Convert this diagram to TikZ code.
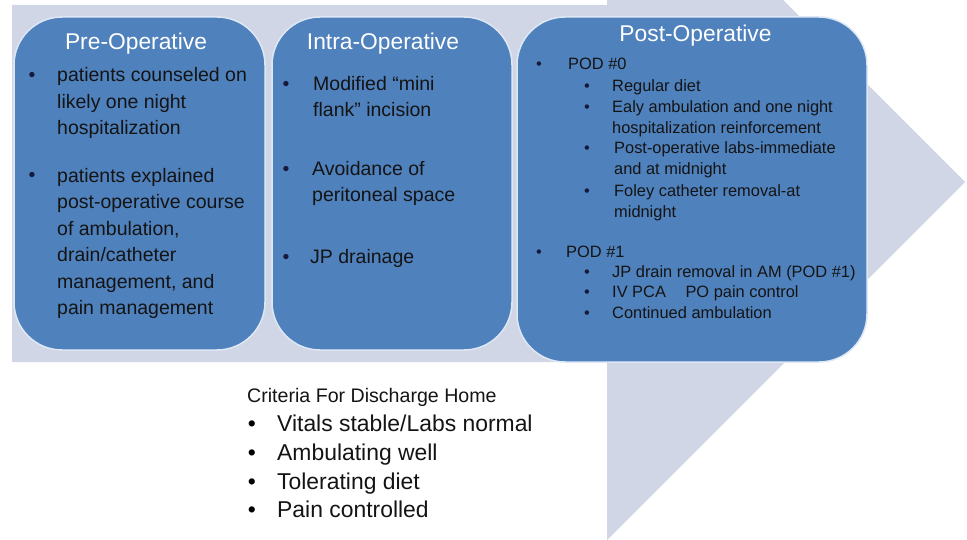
\documentclass[tikz,border=0pt]{standalone}
\usepackage{fontspec}
\setmainfont{Liberation Sans}
\usepackage{tikz}

\definecolor{arrowbg}{RGB}{208,214,230}
\definecolor{phaseblue}{RGB}{79,129,189}
\definecolor{phaseedge}{RGB}{222,232,245}
\definecolor{dotcol}{RGB}{22,26,58}

% multi-line items are placed by the baseline of their last line
\tikzset{
	phase/.style={draw=phaseedge, line width=1.5pt, fill=phaseblue, rounded corners=48pt},
	phasetitle/.style={anchor=base, inner sep=0pt, text=white, font=\fontsize{22.8}{26}\selectfont},
	itemtext/.style={anchor=base west, inner sep=0pt, align=left, text=black!92},
	bulletdot/.style={anchor=base, inner sep=0pt, text=dotcol},
	bigfont/.style={font=\fontsize{19.5}{26.6}\selectfont},
	smallfont/.style={font=\fontsize{16.4}{21}\selectfont},
	homefont/.style={font=\fontsize{22.9}{29}\selectfont},
}

\begin{document}
\begin{tikzpicture}[x=1pt,y=-1pt]
			\useasboundingbox (0,0) rectangle (967,540);
			
			% big arrow behind the three phases
			\fill[arrowbg] (12,5)--(607,5)--(607,0)--(783,0)--(965,182)--(607,540)--(607,362)--(12,362)--cycle;
			
			% the three phase boxes
			\node[phase, minimum width=251pt, minimum height=333pt] (pre) at (139.5,183.5) {};
			\node[phase, minimum width=240pt, minimum height=333pt] (intra) at (392,183.5) {};
			\node[phase, minimum width=350pt, minimum height=345pt] (post) at (692,189.5) {};
			
			\node [phasetitle] (pretitle) at (136,50) {Pre-Operative};
			\node [phasetitle] (intratitle) at (383,50) {Intra-Operative};
			\node [phasetitle] (posttitle) at (695.5,42) {Post-Operative};
			
			% pre-operative
			\node [bulletdot, bigfont] (preb1) at (32,82) {•};
			\node [itemtext, bigfont] (pre1) at (57,135) {patients counseled on\\likely one night\\hospitalization};
			\node [bulletdot, bigfont] (preb2) at (32,182) {•};
			\node [itemtext, bigfont] (pre2) at (57,315) {patients explained\\post-operative course\\of ambulation,\\drain/catheter\\management, and\\pain management};
			
			% intra-operative
			\node [bulletdot, bigfont] (intrab1) at (286,91) {•};
			\node [itemtext, bigfont] (intra1) at (313,117) {Modified “mini\\flank” incision};
			\node [bulletdot, bigfont] (intrab2) at (286,176) {•};
			\node [itemtext, bigfont] (intra2) at (312,202) {Avoidance of\\peritoneal space};
			\node [bulletdot, bigfont] (intrab3) at (286,264) {•};
			\node [itemtext, bigfont] (intra3) at (310,264) {JP drainage};
			
			% post-operative
			\node [bulletdot, smallfont] (podb0) at (539,70) {•};
			\node [itemtext, smallfont] (pod0) at (568,70) {POD \#0};
			\node [bulletdot, smallfont] (postb1) at (587,92) {•};
			\node [itemtext, smallfont] (post1) at (612,92) {Regular diet};
			\node [bulletdot, smallfont] (postb2) at (587,113) {•};
			\node [itemtext, smallfont] (post2) at (612,134) {Ealy ambulation and one night\\hospitalization reinforcement};
			\node [bulletdot, smallfont] (postb3) at (587,154) {•};
			\node [itemtext, smallfont] (post3) at (614,175) {Post-operative labs-immediate\\and at midnight};
			\node [bulletdot, smallfont] (postb4) at (587,197) {•};
			\node [itemtext, smallfont] (post4) at (614,218) {Foley catheter removal-at\\midnight};
			
			\node [bulletdot, smallfont] (podb1) at (539,258) {•};
			\node [itemtext, smallfont] (pod1) at (566,258) {POD \#1};
			\node [bulletdot, smallfont] (postb5) at (587,278) {•};
			\node [itemtext, smallfont] (post5) at (612,278) {JP drain removal in AM (POD \#1)};
			\node [bulletdot, smallfont] (postb6) at (587,298) {•};
			\node [itemtext, smallfont] (post6) at (612,298) {IV PCA\hspace{15pt} PO pain control};
			\node [bulletdot, smallfont] (postb7) at (587,318) {•};
			\node [itemtext, smallfont] (post7) at (612,318) {Continued ambulation};
			
			% discharge criteria
			\node [itemtext, font=\fontsize{19.6}{24}\selectfont] (home) at (247,402) {Criteria For Discharge Home};
			\node [bulletdot, homefont, text=black] (homeb1) at (252,431) {•};
			\node [itemtext, homefont] (home1) at (277,431) {Vitals stable/Labs normal};
			\node [bulletdot, homefont, text=black] (homeb2) at (252,460) {•};
			\node [itemtext, homefont] (home2) at (277,460) {Ambulating well};
			\node [bulletdot, homefont, text=black] (homeb3) at (252,489) {•};
			\node [itemtext, homefont] (home3) at (277,489) {Tolerating diet};
			\node [bulletdot, homefont, text=black] (homeb4) at (252,517) {•};
			\node [itemtext, homefont] (home4) at (277,517) {Pain controlled};
		\end{tikzpicture}
\end{document}
